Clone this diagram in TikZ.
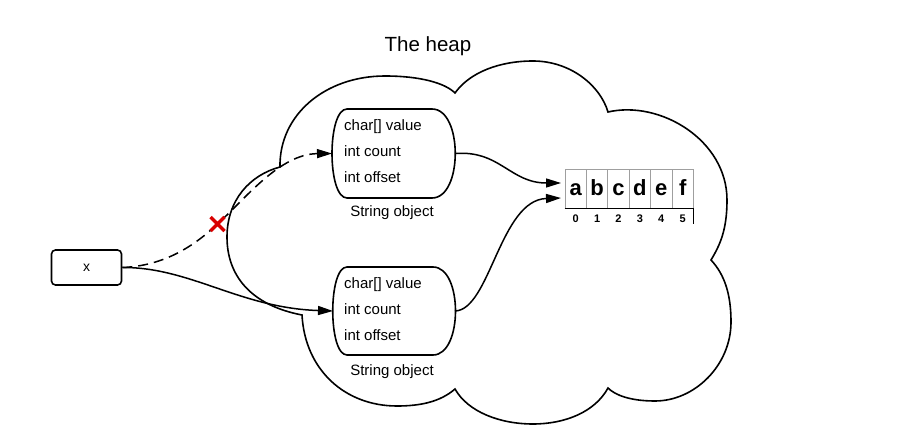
\documentclass[tikz,border=0pt]{standalone}
\usepackage{fontspec}
\setmainfont{Liberation Sans}
\usetikzlibrary{arrows.meta,calc}
\begin{document}
\begin{tikzpicture}[x=1pt,y=-1pt,
  line/.style={line width=1.6pt, black},
  conn/.style={line width=1.5pt, -{Triangle[length=15pt,width=9pt]}},
  field/.style={anchor=base west, inner sep=0pt, font=\fontsize{15}{15}\selectfont},
  caption/.style={anchor=base, inner sep=0pt, font=\fontsize{15}{15}\selectfont},
  cell/.style={draw=gray!75, line width=0.9pt, minimum width=21.4pt, minimum height=39pt, inner sep=0pt, text height=15pt, text depth=0pt, font=\bfseries\fontsize{22}{22}\selectfont},
  idx/.style={inner sep=0pt, text height=7.8pt, text depth=0pt, font=\bfseries\fontsize{11}{11}\selectfont}
]
\useasboundingbox (0,0) rectangle (918,443);

% the heap cloud
\draw[line] (280,167)
 .. controls (279,115) and (325,76) .. (385,76)
 .. controls (420,76) and (445,83) .. (455,93)
 .. controls (470,72) and (500,61) .. (533,61)
 .. controls (570,61) and (600,85) .. (608,112)
 .. controls (660,100) and (727,140) .. (727,200)
 .. controls (727,230) and (720,245) .. (711,260)
 .. controls (725,275) and (731,295) .. (731,322)
 .. controls (731,365) and (695,401) .. (655,401)
 .. controls (630,401) and (615,395) .. (608,388)
 .. controls (595,412) and (565,424) .. (533,424)
 .. controls (500,424) and (468,412) .. (455,389)
 .. controls (440,402) and (420,406) .. (397,406)
 .. controls (345,406) and (305,370) .. (302,315)
 .. controls (250,305) and (227,275) .. (227,237)
 .. controls (227,200) and (250,175) .. (280,167) -- cycle;

\node[inner sep=0pt, font=\fontsize{20.5}{20.5}\selectfont] (heap) at (428,46) {The heap};

% x variable
\node[draw, line width=1.6pt, rounded corners=4pt, minimum width=70pt, minimum height=35pt, font=\fontsize{14}{14}\selectfont] (xbox) at (86.5,267.5) {x};

% upper String object
\draw[line] (347,109) -- (432,109) .. controls (463,109) and (463,198) .. (432,198)
  -- (347,198) .. controls (327,198) and (327,109) .. (347,109) -- cycle;
\coordinate (s1w) at (332,153.5);
\coordinate (s1e) at (455,153.5);
\node[field] (s1a) at (344,130.5) {char[] value};
\node[field] (s1b) at (344,156.7) {int count};
\node[field] (s1c) at (344,182.7) {int offset};
\node[caption] (s1l) at (392,216.7) {String object};

% lower String object
\draw[line] (347,267) -- (433,267) .. controls (463,267) and (463,355) .. (433,355)
  -- (347,355) .. controls (328,355) and (328,267) .. (347,267) -- cycle;
\coordinate (s2w) at (333,311);
\coordinate (s2e) at (455,311);
\node[field] (s2a) at (344,288.3) {char[] value};
\node[field] (s2b) at (344,314.3) {int count};
\node[field] (s2c) at (344,340.7) {int offset};
\node[caption] (s2l) at (392,375) {String object};

% char array
\foreach \l [count=\i from 0] in {a,b,c,d,e,f} {
  \node[cell] (c\i) at ({575.7+21.4*\i},188.5) {\l};
  \node[idx] (n\i) at ({575.7+21.4*\i},219) {\i};
}
\draw[line width=1.2pt] (c0.south west) -- (c5.south east) -- ++(0,16);
\coordinate (in1) at (561,183);
\coordinate (in2) at (561,198);

% connectors
\coordinate (xmark) at (217.5,224);
\draw[line width=1.5pt, dash pattern=on 10pt off 6pt, -{Triangle[length=15pt,width=9pt]}]
  (xbox.east) .. controls (160,266) and (190,250) .. (xmark)
  .. controls (246,198) and (280,154) .. (s1w);
\draw[conn] (xbox.east) .. controls (190,267) and (240,308) .. (s2w);
\draw[conn] (s1e) .. controls (500,150) and (510,183) .. (in1);
\draw[conn] (s2e) .. controls (490,310) and (500,200) .. (in2);

% red cross
\draw[line width=3.2pt, red!85!black] ($(xmark)+(-7,-7)$) -- ($(xmark)+(7,7)$)
  ($(xmark)+(-7,7)$) -- ($(xmark)+(7,-7)$);
\end{tikzpicture}
\end{document}
